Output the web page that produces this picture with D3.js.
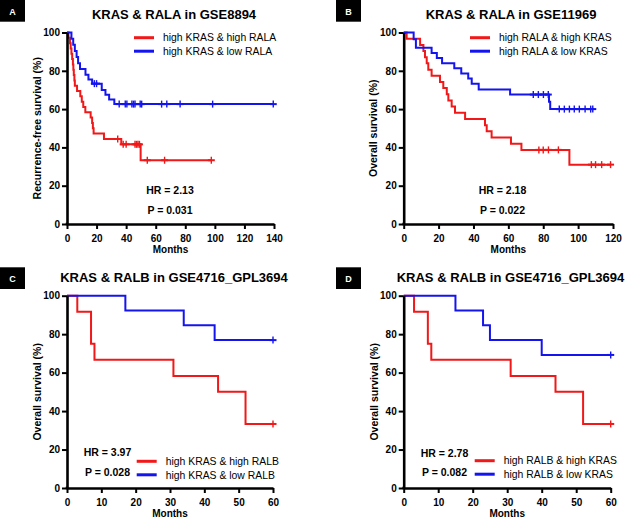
<!DOCTYPE html>
<html><head><meta charset="utf-8">
<script src="https://cdn.jsdelivr.net/npm/d3@7"></script>
<style>
body{margin:0;background:#fff}
svg{display:block}
text{font-family:"Liberation Sans",Arial,Helvetica,sans-serif;fill:#000}
</style>
</head><body>
<svg id="chart" width="626" height="518"></svg>
<script>
// ---------- DATA ----------
const yTicks = [0, 20, 40, 60, 80, 100];
const xTicksA = [0, 20, 40, 60, 80, 100, 120, 140];
const xTicksB = [0, 20, 40, 60, 80, 100, 120];
const xTicksCD = [0, 10, 20, 30, 40, 50, 60];

const panelLetters = ["A", "B", "C", "D"];
const titles = ["KRAS & RALA in GSE8894", "KRAS & RALA in GSE11969",
                "KRAS & RALB in GSE4716_GPL3694", "KRAS & RALB in GSE4716_GPL3694"];
const yLabels = ["Recurrence-free survival (%)", "Overall survival (%)",
                 "Overall survival (%)", "Overall survival (%)"];
const xLabel = "Months";
const legendA = ["high KRAS & high RALA", "high KRAS & low RALA"];
const legendB = ["high RALA & high KRAS", "high RALA & low KRAS"];
const legendC = ["high KRAS & high RALB", "high KRAS & low RALB"];
const legendD = ["high RALB & high KRAS", "high RALB & low KRAS"];
const hrTexts = ["HR = 2.13", "HR = 2.18", "HR = 3.97", "HR = 2.78"];
const pTexts = ["P = 0.031", "P = 0.022", "P = 0.028", "P = 0.082"];

// Kaplan-Meier steps: [month, survival %]
const redA = [[0,100],[1,97.2],[2,94.4],[2.5,91.7],[3,88.9],[3.5,86.1],[4,83.3],[4.3,80.6],[4.6,77.8],[5,75],[5.3,72.2],[6.8,69.4],[9,66.7],[10,63.9],[11,61.1],[12.4,58.3],[16,55.6],[17,52.8],[17.5,50],[18,47.2],[25,44.4],[36.7,41.6],[49.8,33.3]];
const redACensor = [34.3, 38, 40, 46, 47, 48, 49, 54.3, 66, 97.6];
const blueA = [[0,100],[3,96.8],[4.2,93.6],[5.3,90.4],[6.5,87.2],[7.5,84],[8.8,81],[12.5,78],[14.5,75.5],[17,73.3],[23.5,70],[26,67.5],[28.5,65],[32,62.6]];
const blueACensor = [18.5, 20, 35.3, 39.4, 40.5, 43.9, 45, 46, 49.5, 50.5, 64, 67.5, 76.5, 98.5, 139.5];

const redB = [[0,100],[1.7,96.8],[9.4,93.5],[11.3,90.3],[12.2,87.1],[13.2,83.9],[14.1,80.6],[16,77.4],[20.8,74.2],[22.7,71],[24.7,67.7],[25.6,64.5],[27.5,61.3],[29.4,58.1],[35.2,54.8],[46.6,51.6],[47.6,48.4],[50.4,45.2],[61.5,41.9],[67.5,38.7],[95,31]];
const redBCensor = [77.5, 80, 83, 88.7, 107.6, 110, 113.5, 118.6];
const blueB = [[0,100],[5.7,96.5],[7,92],[16,89.3],[19,86.7],[22,84],[29,81.3],[33,78.6],[37,76],[39,73.3],[43,70.3],[61,67.6],[83.3,63.8],[84,60]];
const blueBCensor = [74.3, 77.2, 80.1, 82.9, 89.2, 92.1, 95, 97.8, 100.7, 104, 107.2, 108.4];

const redC = [[0,100],[3,91.7],[7,75],[8,66.7],[31,58.3],[44,50],[52,33.3]];
const redCCensor = [60];
const blueC = [[0,100],[17,92.3],[34,84.6],[43,76.9]];
const blueCCensor = [60];

const redD = [[0,100],[3,91.7],[7,75],[8,66.7],[31,58.3],[44,50],[52,33.3]];
const redDCensor = [60];
const blueD = [[0,100],[15,92.3],[23,84.6],[25,76.9],[40,69.2]];
const blueDCensor = [60];

// ---------- STYLE / LAYOUT ----------
const RED = "#f01818", BLUE = "#1414ee";
const layouts = [
  {l:67, r:274, t:32.5, b:224, xmax:140, ticks:xTicksA, badge:[0,0], titleX:174, titleY:19,
   yLabX:37, legX:134, legY:37.7, statX:170, hrY:190.7, pY:210},
  {l:403.7, r:613, t:32.5, b:224, xmax:120, ticks:xTicksB, badge:[336,0], titleX:511, titleY:19,
   yLabX:373, legX:470, legY:37.7, statX:502.5, hrY:190.7, pY:210},
  {l:67, r:273, t:295.7, b:488, xmax:60, ticks:xTicksCD, badge:[0,267.3], titleX:174, titleY:282,
   yLabX:37, legX:136.7, legY:461.3, statX:107.5, hrY:452.3, pY:472.3},
  {l:403.7, r:610.7, t:295.7, b:488, xmax:60, ticks:xTicksCD, badge:[336,267.3], titleX:510.5, titleY:282,
   yLabX:374, legX:474.7, legY:460.7, statX:444.5, hrY:453.3, pY:472.3}
];
const seriesSets = [
  [{steps:redA, cens:redACensor, color:RED, name:legendA[0]}, {steps:blueA, cens:blueACensor, color:BLUE, name:legendA[1]}],
  [{steps:redB, cens:redBCensor, color:RED, name:legendB[0]}, {steps:blueB, cens:blueBCensor, color:BLUE, name:legendB[1]}],
  [{steps:redC, cens:redCCensor, color:RED, name:legendC[0]}, {steps:blueC, cens:blueCCensor, color:BLUE, name:legendC[1]}],
  [{steps:redD, cens:redDCensor, color:RED, name:legendD[0]}, {steps:blueD, cens:blueDCensor, color:BLUE, name:legendD[1]}]
];

const svg = d3.select("#chart");

function survAt(steps, t) {
  let s = steps[0][1];
  for (const [tt, v] of steps) { if (tt <= t) s = v; }
  return s;
}

layouts.forEach((L, i) => {
  const g = svg.append("g");
  const x = d3.scaleLinear().domain([0, L.xmax]).range([L.l, L.r]);
  const y = d3.scaleLinear().domain([0, 100]).range([L.b, L.t]);

  // badge
  g.append("rect").attr("x", L.badge[0]).attr("y", L.badge[1]).attr("width", 25).attr("height", 21.7).attr("fill", "#000");
  g.append("text").attr("x", L.badge[0] + 12.5).attr("y", L.badge[1] + 14.5).attr("text-anchor", "middle")
    .style("font-size", "9px").style("font-weight", "bold").style("fill", "#fff").text(panelLetters[i]);

  // title
  g.append("text").attr("x", L.titleX).attr("y", L.titleY).attr("text-anchor", "middle")
    .style("font-size", "13px").style("font-weight", "bold").text(titles[i]);

  // curves
  seriesSets[i].forEach(s => {
    const lastT = Math.max(s.steps[s.steps.length - 1][0], d3.max(s.cens));
    const pts = s.steps.concat([[lastT, survAt(s.steps, lastT)]]);
    g.append("path").datum(pts)
      .attr("d", d3.line().x(d => x(d[0])).y(d => y(d[1])).curve(d3.curveStepAfter))
      .attr("fill", "none").attr("stroke", s.color).attr("stroke-width", 2);
    const cg = g.append("g");
    s.cens.forEach(t => {
      const cx = x(t), cy = y(survAt(s.steps, t));
      cg.append("line").attr("x1", cx).attr("x2", cx).attr("y1", cy - 3.5).attr("y2", cy + 3.5)
        .attr("stroke", s.color).attr("stroke-width", 1.4);
      cg.append("line").attr("x1", cx - 3.5).attr("x2", cx + 3.5).attr("y1", cy).attr("y2", cy)
        .attr("stroke", s.color).attr("stroke-width", 2);
    });
  });

  // axes
  const yAx = g.append("g").attr("transform", `translate(${L.l},0)`)
    .call(d3.axisLeft(y).tickValues(yTicks).tickSize(5).tickPadding(2).tickSizeOuter(0));
  const xAx = g.append("g").attr("transform", `translate(0,${L.b})`)
    .call(d3.axisBottom(x).tickValues(L.ticks).tickSize(5).tickPadding(6).tickSizeOuter(0));
  [yAx, xAx].forEach(a => {
    a.select(".domain").attr("stroke", "#000").attr("stroke-width", 2.6);
    a.selectAll(".tick line").attr("stroke", "#000").attr("stroke-width", 2);
    a.selectAll(".tick text").style("font-size", "10px").style("font-weight", "bold")
      .style("font-family", '"Liberation Sans",Arial,sans-serif').attr("fill", "#000");
  });
  // axis line extend slightly to cover corner
  g.append("line").attr("x1", L.l - 1.3).attr("x2", L.l + 1).attr("y1", L.b).attr("y2", L.b)
    .attr("stroke", "#000").attr("stroke-width", 2.6);

  // axis labels
  g.append("text").attr("x", (L.l + L.r) / 2).attr("y", L.b + 29).attr("text-anchor", "middle")
    .style("font-size", "10px").style("font-weight", "bold").text(xLabel);
  g.append("text").attr("transform", `translate(${L.yLabX + 3.7},${(L.t + L.b) / 2}) rotate(-90)`)
    .attr("text-anchor", "middle").style("font-size", "10.5px").style("font-weight", "bold").text(yLabels[i]);

  // legend
  seriesSets[i].forEach((s, j) => {
    const ly = L.legY + j * 13.5;
    g.append("line").attr("x1", L.legX).attr("x2", L.legX + 20).attr("y1", ly).attr("y2", ly)
      .attr("stroke", s.color).attr("stroke-width", 3);
    g.append("text").attr("x", L.legX + 29).attr("y", ly).attr("dy", "0.36em")
      .style("font-size", "10.4px").text(s.name);
  });

  // stats
  g.append("text").attr("x", L.statX).attr("y", L.hrY).attr("dy", "0.36em").attr("text-anchor", "middle")
    .style("font-size", "10.5px").style("font-weight", "bold").text(hrTexts[i]);
  g.append("text").attr("x", L.statX).attr("y", L.pY).attr("dy", "0.36em").attr("text-anchor", "middle")
    .style("font-size", "10.5px").style("font-weight", "bold").text(pTexts[i]);
});
</script>
</body></html>
